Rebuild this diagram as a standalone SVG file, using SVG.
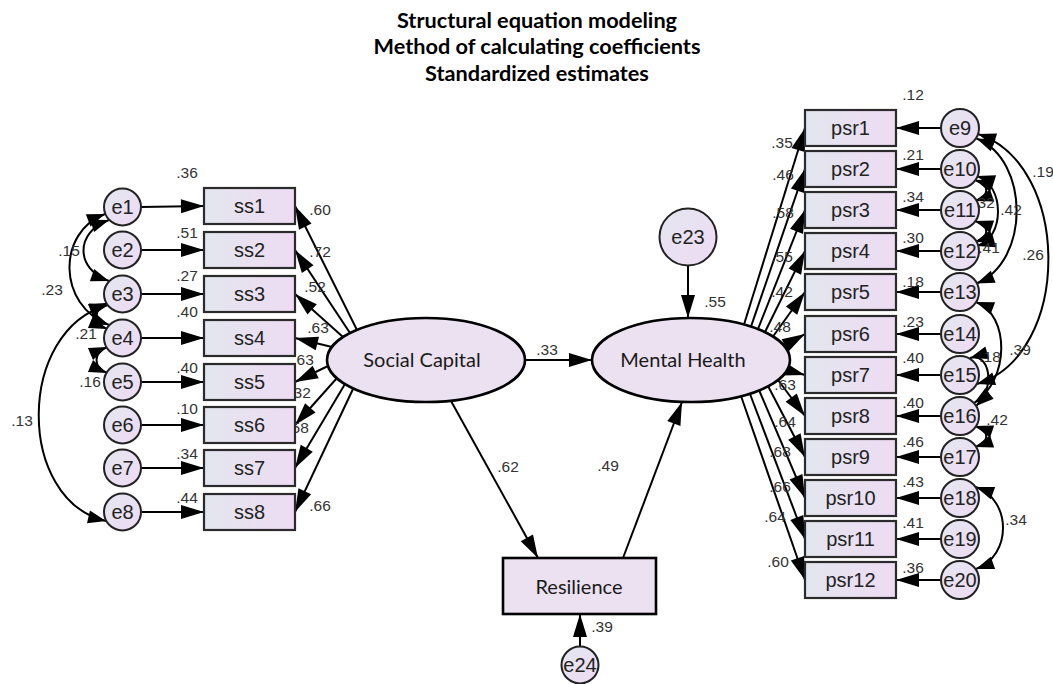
<svg xmlns="http://www.w3.org/2000/svg" width="1053" height="684" viewBox="0 0 1053 684">
<defs>
<linearGradient id="gBox" x1="0" y1="0" x2="1" y2="0">
<stop offset="0" stop-color="#e3e6ee"/><stop offset="1" stop-color="#eedbf3"/>
</linearGradient>
<linearGradient id="gCir" x1="0" y1="0" x2="1" y2="1">
<stop offset="0" stop-color="#e4e7f0"/><stop offset="1" stop-color="#eedaf3"/>
</linearGradient>
<marker id="ah" markerUnits="userSpaceOnUse" markerWidth="26" markerHeight="16" refX="23" refY="7.5" orient="auto" overflow="visible"><path d="M0,0.5 L23,7.5 L0,14.5 z" fill="#000"/></marker>
<marker id="ch" markerUnits="userSpaceOnUse" markerWidth="22" markerHeight="14" refX="18" refY="6.5" orient="auto-start-reverse" overflow="visible"><path d="M0,0 L18,6.5 L0,13 z" fill="#000"/></marker>
</defs>
<style>
.box{fill:url(#gBox);stroke:#2b2b2b;stroke-width:2.2}
.cir{fill:url(#gCir);stroke:#222;stroke-width:2}
.lat{fill:#ebe1f0;stroke:#000;stroke-width:2.6}
.t{font-family:"Liberation Sans",Arial,sans-serif;font-size:20px;fill:#222;text-anchor:middle}
.n{font-family:"Liberation Sans",Arial,sans-serif;font-size:15.5px;fill:#333;text-anchor:middle}
.lt{font-family:Lato,"Open Sans",sans-serif;font-size:20px;fill:#1a1a1a;text-anchor:middle}
.ttl{font-family:Lato,"Open Sans",sans-serif;font-size:21.7px;font-weight:bold;fill:#000;text-anchor:middle}
.p{stroke:#000;stroke-width:2;fill:none;marker-end:url(#ah)}
.c{stroke:#000;stroke-width:2;fill:none;marker-start:url(#ch);marker-end:url(#ch)}
</style>
<rect width="1053" height="684" fill="#fff"/>
<g id="title">
<text class="ttl" x="537" y="28">Structural equation modeling</text>
<text class="ttl" x="537" y="54">Method of calculating coefficients</text>
<text class="ttl" x="537" y="81">Standardized estimates</text>
</g>

<g id="connectors">
<line class="p" x1="141" y1="207" x2="204" y2="206"/>
<line class="p" x1="141" y1="250" x2="204" y2="250"/>
<line class="p" x1="141" y1="294" x2="204" y2="294"/>
<line class="p" x1="141" y1="338" x2="204" y2="338"/>
<line class="p" x1="141" y1="382" x2="204" y2="382"/>
<line class="p" x1="141" y1="425" x2="204" y2="425"/>
<line class="p" x1="141" y1="468" x2="204" y2="468"/>
<line class="p" x1="141" y1="512" x2="204" y2="512"/>
<line class="p" x1="357" y1="330" x2="295" y2="206"/>
<line class="p" x1="350" y1="333" x2="295" y2="250"/>
<line class="p" x1="343" y1="337" x2="295" y2="294"/>
<line class="p" x1="332" y1="347" x2="295" y2="338"/>
<line class="p" x1="328" y1="366" x2="295" y2="382"/>
<line class="p" x1="337" y1="378" x2="295" y2="425"/>
<line class="p" x1="345" y1="384" x2="295" y2="468"/>
<line class="p" x1="353" y1="389" x2="295" y2="512"/>
<path class="c" d="M109,220 C75,232 75,269 109,281"/>
<path class="c" d="M105,214 C57,232 57,305 109,325"/>
<path class="c" d="M107,303 C93,309 93,323 107,329"/>
<path class="c" d="M107,347 C93,353 93,367 107,373"/>
<path class="c" d="M108,305 C16,330 16,500 106,521"/>
<line class="p" x1="525" y1="360" x2="592" y2="360"/>
<line class="p" x1="451" y1="401" x2="538" y2="558"/>
<line class="p" x1="623" y1="558" x2="682" y2="402"/>
<line class="p" x1="688" y1="266" x2="688" y2="318"/>
<line class="p" x1="580" y1="646" x2="580" y2="614"/>
<line class="p" x1="744" y1="324.5" x2="805" y2="128"/>
<line class="p" x1="751" y1="326.6" x2="805" y2="169"/>
<line class="p" x1="758" y1="329" x2="805" y2="210"/>
<line class="p" x1="765" y1="332" x2="805" y2="251"/>
<line class="p" x1="773" y1="336.5" x2="805" y2="292"/>
<line class="p" x1="784" y1="346" x2="805" y2="334"/>
<line class="p" x1="787" y1="370" x2="805" y2="375"/>
<line class="p" x1="778" y1="380" x2="805" y2="416"/>
<line class="p" x1="768" y1="386" x2="805" y2="457"/>
<line class="p" x1="759" y1="390" x2="805" y2="498"/>
<line class="p" x1="750" y1="394" x2="805" y2="539"/>
<line class="p" x1="741" y1="396" x2="805" y2="580"/>
<line class="p" x1="941" y1="128" x2="896" y2="128"/>
<line class="p" x1="941" y1="169" x2="896" y2="169"/>
<line class="p" x1="941" y1="210" x2="896" y2="210"/>
<line class="p" x1="941" y1="251" x2="896" y2="251"/>
<line class="p" x1="941" y1="292" x2="896" y2="292"/>
<line class="p" x1="941" y1="334" x2="896" y2="334"/>
<line class="p" x1="941" y1="375" x2="896" y2="375"/>
<line class="p" x1="941" y1="416" x2="896" y2="416"/>
<line class="p" x1="941" y1="457" x2="896" y2="457"/>
<line class="p" x1="941" y1="498" x2="896" y2="498"/>
<line class="p" x1="941" y1="539" x2="896" y2="539"/>
<line class="p" x1="941" y1="580" x2="896" y2="580"/>
<path class="c" d="M978,134 C1072,165 1072,355 977,384"/>
<path class="c" d="M976.5,138.5 C1030,160 1030,262 976.5,283.5"/>
<path class="c" d="M977,176 C1005,185 1005,238 977,246"/>
<path class="c" d="M975,180 C990,185 990,196 975,201"/>
<path class="c" d="M975,221 C990,226 990,237 975,242"/>
<path class="c" d="M976,302 C1010,315 1010,380 974,403"/>
<path class="c" d="M970,358 C990,352 996,388 976,406"/>
<path class="c" d="M975,426 C990,431 990,442 975,447"/>
<path class="c" d="M976,487 C1012,500 1012,556 976,569"/>
</g>

<g id="labels">
<text class="n" x="187" y="178">.36</text>
<text class="n" x="187" y="238">.51</text>
<text class="n" x="187" y="281">.27</text>
<text class="n" x="187" y="317">.40</text>
<text class="n" x="187" y="373">.40</text>
<text class="n" x="187" y="414">.10</text>
<text class="n" x="187" y="459">.34</text>
<text class="n" x="187" y="503">.44</text>
<text class="n" x="320" y="215">.60</text>
<text class="n" x="320" y="257">.72</text>
<text class="n" x="315" y="292">.52</text>
<text class="n" x="318" y="333">.63</text>
<text class="n" x="303" y="365">.63</text>
<text class="n" x="300" y="398">.32</text>
<text class="n" x="298" y="433">.58</text>
<text class="n" x="320" y="511">.66</text>
<text class="n" x="69" y="256">.15</text>
<text class="n" x="52" y="295">.23</text>
<text class="n" x="86" y="339">.21</text>
<text class="n" x="90" y="387">.16</text>
<text class="n" x="22" y="426">.13</text>
<text class="n" x="547" y="355">.33</text>
<text class="n" x="508" y="472">.62</text>
<text class="n" x="608" y="471">.49</text>
<text class="n" x="715" y="307">.55</text>
<text class="n" x="602" y="632">.39</text>
<text class="n" x="782" y="148">.35</text>
<text class="n" x="783" y="180">.46</text>
<text class="n" x="783" y="218">.58</text>
<text class="n" x="782" y="262">.55</text>
<text class="n" x="782" y="297">.42</text>
<text class="n" x="780" y="332">.48</text>
<text class="n" x="785" y="390">.63</text>
<text class="n" x="785" y="427">.64</text>
<text class="n" x="780" y="457">.68</text>
<text class="n" x="780" y="492">.66</text>
<text class="n" x="775" y="522">.64</text>
<text class="n" x="778" y="567">.60</text>
<text class="n" x="913" y="100">.12</text>
<text class="n" x="913" y="160">.21</text>
<text class="n" x="913" y="202">.34</text>
<text class="n" x="913" y="243">.30</text>
<text class="n" x="913" y="287">.18</text>
<text class="n" x="913" y="327">.23</text>
<text class="n" x="913" y="363">.40</text>
<text class="n" x="913" y="408">.40</text>
<text class="n" x="913" y="447">.46</text>
<text class="n" x="913" y="487">.43</text>
<text class="n" x="913" y="528">.41</text>
<text class="n" x="913" y="573">.36</text>
<text class="n" x="1043" y="177">.19</text>
<text class="n" x="984" y="208">.32</text>
<text class="n" x="1011" y="215">.42</text>
<text class="n" x="989" y="253">.41</text>
<text class="n" x="1033" y="260">.26</text>
<text class="n" x="1020" y="355">.39</text>
<text class="n" x="990" y="362">.18</text>
<text class="n" x="997" y="425">.42</text>
<text class="n" x="1016" y="525">.34</text>
</g>

<g id="e1"><circle class="cir" cx="122.5" cy="207" r="18.5"/><text class="t" x="122.5" y="214">e1</text></g>
<g id="e2"><circle class="cir" cx="122.5" cy="250" r="18.5"/><text class="t" x="122.5" y="257">e2</text></g>
<g id="e3"><circle class="cir" cx="122.5" cy="294" r="18.5"/><text class="t" x="122.5" y="301">e3</text></g>
<g id="e4"><circle class="cir" cx="122.5" cy="338" r="18.5"/><text class="t" x="122.5" y="345">e4</text></g>
<g id="e5"><circle class="cir" cx="122.5" cy="382" r="18.5"/><text class="t" x="122.5" y="389">e5</text></g>
<g id="e6"><circle class="cir" cx="122.5" cy="425" r="18.5"/><text class="t" x="122.5" y="432">e6</text></g>
<g id="e7"><circle class="cir" cx="122.5" cy="468" r="18.5"/><text class="t" x="122.5" y="475">e7</text></g>
<g id="e8"><circle class="cir" cx="122.5" cy="512" r="18.5"/><text class="t" x="122.5" y="519">e8</text></g>

<g id="ss1"><rect class="box" x="204" y="188" width="91" height="36"/><text class="t" x="249.5" y="213">ss1</text></g>
<g id="ss2"><rect class="box" x="204" y="232" width="91" height="36"/><text class="t" x="249.5" y="257">ss2</text></g>
<g id="ss3"><rect class="box" x="204" y="276" width="91" height="36"/><text class="t" x="249.5" y="301">ss3</text></g>
<g id="ss4"><rect class="box" x="204" y="320" width="91" height="36"/><text class="t" x="249.5" y="345">ss4</text></g>
<g id="ss5"><rect class="box" x="204" y="364" width="91" height="36"/><text class="t" x="249.5" y="389">ss5</text></g>
<g id="ss6"><rect class="box" x="204" y="407" width="91" height="36"/><text class="t" x="249.5" y="432">ss6</text></g>
<g id="ss7"><rect class="box" x="204" y="450" width="91" height="36"/><text class="t" x="249.5" y="475">ss7</text></g>
<g id="ss8"><rect class="box" x="204" y="494" width="91" height="36"/><text class="t" x="249.5" y="519">ss8</text></g>

<g id="social-capital"><ellipse class="lat" cx="426" cy="360" rx="99" ry="42"/><text class="lt" x="422" y="367">Social Capital</text></g>
<g id="mental-health"><ellipse class="lat" cx="691" cy="360" rx="99" ry="42"/><text class="lt" x="683" y="367">Mental Health</text></g>
<g id="resilience"><rect class="lat" x="503" y="558" width="153" height="56"/><text class="lt" x="579" y="594">Resilience</text></g>
<g id="e23"><circle class="cir" cx="688" cy="237" r="28.5"/><text class="t" x="688" y="244">e23</text></g>
<g id="e24"><circle class="cir" cx="580" cy="665" r="18.5"/><text class="t" x="580" y="672">e24</text></g>

<g id="psr1"><rect class="box" x="805" y="110" width="91" height="36"/><text class="t" x="850.5" y="135">psr1</text></g>
<g id="psr2"><rect class="box" x="805" y="151" width="91" height="36"/><text class="t" x="850.5" y="176">psr2</text></g>
<g id="psr3"><rect class="box" x="805" y="192" width="91" height="36"/><text class="t" x="850.5" y="217">psr3</text></g>
<g id="psr4"><rect class="box" x="805" y="233" width="91" height="36"/><text class="t" x="850.5" y="258">psr4</text></g>
<g id="psr5"><rect class="box" x="805" y="274" width="91" height="36"/><text class="t" x="850.5" y="299">psr5</text></g>
<g id="psr6"><rect class="box" x="805" y="316" width="91" height="36"/><text class="t" x="850.5" y="341">psr6</text></g>
<g id="psr7"><rect class="box" x="805" y="357" width="91" height="36"/><text class="t" x="850.5" y="382">psr7</text></g>
<g id="psr8"><rect class="box" x="805" y="398" width="91" height="36"/><text class="t" x="850.5" y="423">psr8</text></g>
<g id="psr9"><rect class="box" x="805" y="439" width="91" height="36"/><text class="t" x="850.5" y="464">psr9</text></g>
<g id="psr10"><rect class="box" x="805" y="480" width="91" height="36"/><text class="t" x="850.5" y="505">psr10</text></g>
<g id="psr11"><rect class="box" x="805" y="521" width="91" height="36"/><text class="t" x="850.5" y="546">psr11</text></g>
<g id="psr12"><rect class="box" x="805" y="562" width="91" height="36"/><text class="t" x="850.5" y="587">psr12</text></g>

<g id="e9"><circle class="cir" cx="960" cy="128" r="19"/><text class="t" x="960" y="135">e9</text></g>
<g id="e10"><circle class="cir" cx="960" cy="169" r="19"/><text class="t" x="960" y="176">e10</text></g>
<g id="e11"><circle class="cir" cx="960" cy="210" r="19"/><text class="t" x="960" y="217">e11</text></g>
<g id="e12"><circle class="cir" cx="960" cy="251" r="19"/><text class="t" x="960" y="258">e12</text></g>
<g id="e13"><circle class="cir" cx="960" cy="292" r="19"/><text class="t" x="960" y="299">e13</text></g>
<g id="e14"><circle class="cir" cx="960" cy="334" r="19"/><text class="t" x="960" y="341">e14</text></g>
<g id="e15"><circle class="cir" cx="960" cy="375" r="19"/><text class="t" x="960" y="382">e15</text></g>
<g id="e16"><circle class="cir" cx="960" cy="416" r="19"/><text class="t" x="960" y="423">e16</text></g>
<g id="e17"><circle class="cir" cx="960" cy="457" r="19"/><text class="t" x="960" y="464">e17</text></g>
<g id="e18"><circle class="cir" cx="960" cy="498" r="19"/><text class="t" x="960" y="505">e18</text></g>
<g id="e19"><circle class="cir" cx="960" cy="539" r="19"/><text class="t" x="960" y="546">e19</text></g>
<g id="e20"><circle class="cir" cx="960" cy="580" r="19"/><text class="t" x="960" y="587">e20</text></g>
</svg>
